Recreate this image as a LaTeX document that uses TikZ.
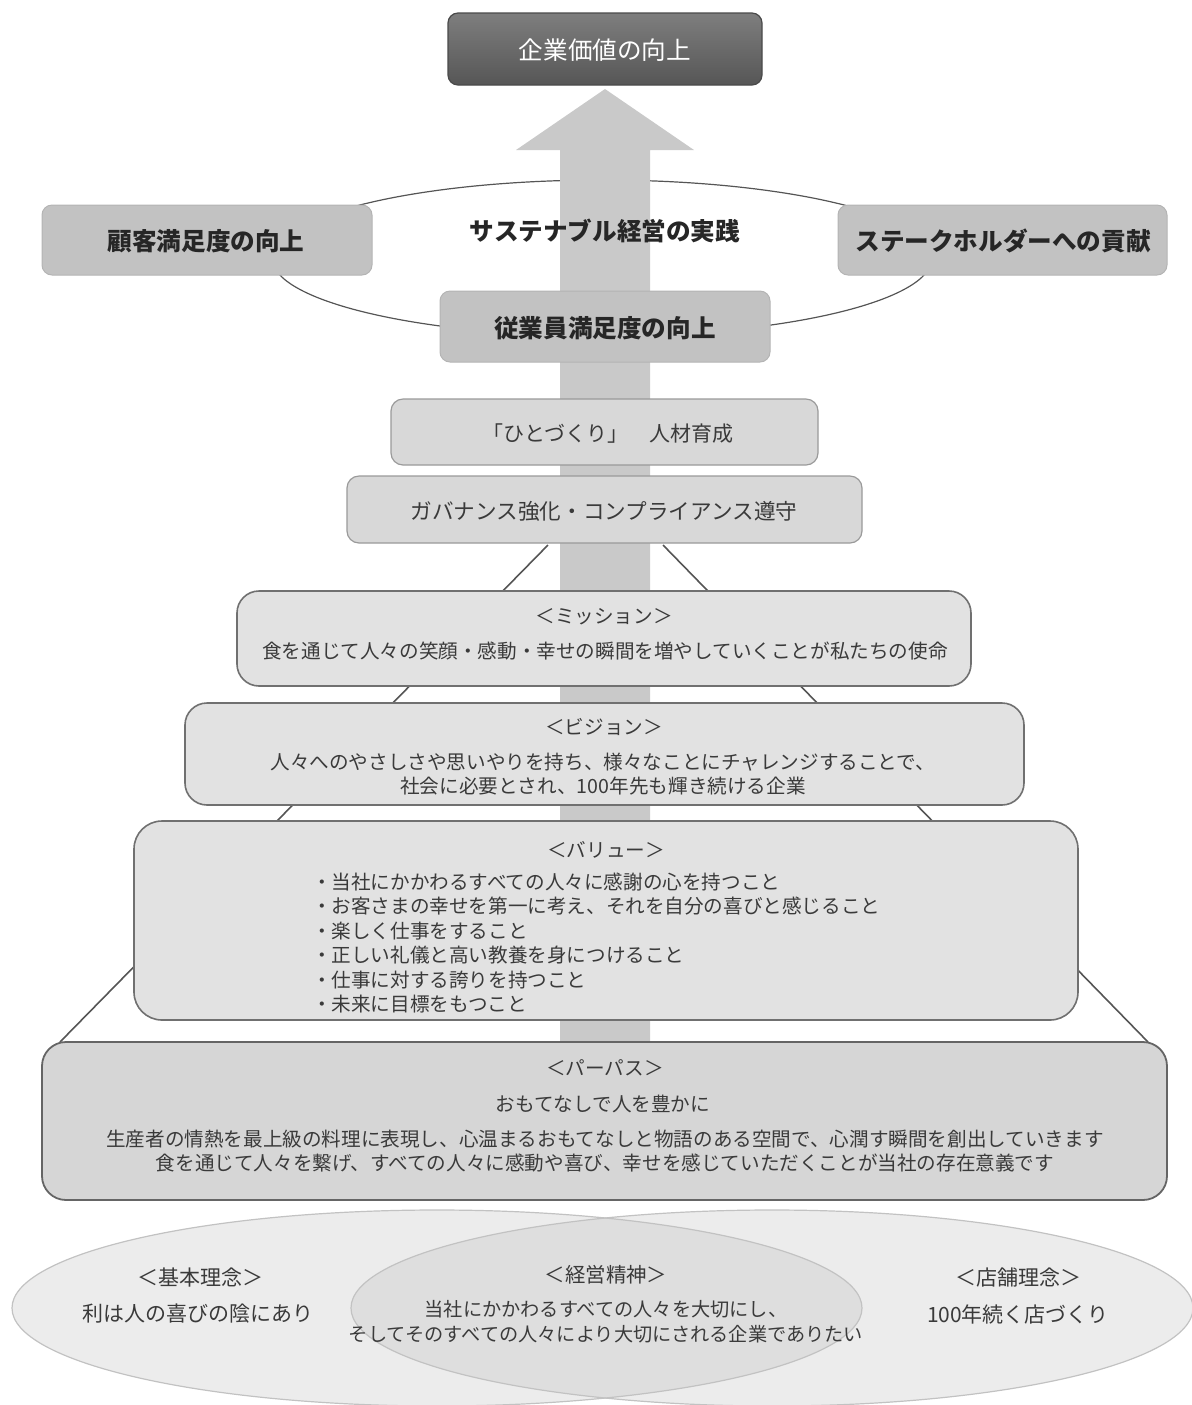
\documentclass[tikz,border=0pt]{standalone}
\usepackage{fontspec}
\setmainfont{Noto Sans CJK JP}
\definecolor{topA}{HTML}{7E7E7E}
\definecolor{topB}{HTML}{565656}
\definecolor{topedge}{HTML}{4A4A4A}
\definecolor{arrowfill}{HTML}{C9C9C9}
\definecolor{keyfill}{HTML}{C2C2C2}
\definecolor{keyedge}{HTML}{B4B4B4}
\definecolor{midfill}{HTML}{D8D8D8}
\definecolor{midedge}{HTML}{9A9A9A}
\definecolor{lightfill}{HTML}{E2E2E2}
\definecolor{lightedge}{HTML}{707070}
\definecolor{purfill}{HTML}{D6D6D6}
\definecolor{puredge}{HTML}{656565}
\definecolor{ellfill}{HTML}{ECECEC}
\definecolor{lensfill}{HTML}{DEDEDE}
\definecolor{elledge}{HTML}{C2C2C2}
\definecolor{txt}{HTML}{3A3A3A}
\definecolor{boldtxt}{HTML}{262626}
\definecolor{linegray}{HTML}{555555}
\begin{document}
\begin{tikzpicture}[x=0.5pt,y=-0.5pt,
  every node/.style={inner sep=0pt,outer sep=0pt},
  darkbox/.style={rounded corners=5pt,draw=topedge,top color=topA,bottom color=topB,line width=0.6pt},
  keybox/.style={rounded corners=5pt,fill=keyfill,draw=keyedge,line width=0.5pt},
  midbox/.style={rounded corners=6pt,fill=midfill,draw=midedge,line width=0.6pt},
  lightbox/.style={rounded corners=11pt,fill=lightfill,draw=lightedge,line width=0.8pt},
  purposebox/.style={rounded corners=12pt,fill=purfill,draw=puredge,line width=0.9pt},
  keytext/.style={text=boldtxt,font=\fontsize{12.3pt}{14pt}\selectfont\bfseries},
  midtext/.style={text=txt,font=\fontsize{10.5pt}{12pt}\selectfont},
  bodytext/.style={text=txt,font=\fontsize{9.8pt}{12.2pt}\selectfont,align=center},
  pyramid/.style={draw=linegray,line width=0.8pt},
]
\useasboundingbox (0,0) rectangle (1192,1405);

% ---- bottom overlapping ellipses ----
\fill[ellfill] (437,1308) ellipse [x radius=212.5pt,y radius=49pt];
\fill[ellfill] (772,1308) ellipse [x radius=210.5pt,y radius=49pt];
\begin{scope}
  \clip (437,1308) ellipse [x radius=212.5pt,y radius=49pt];
  \fill[lensfill] (772,1308) ellipse [x radius=210.5pt,y radius=49pt];
\end{scope}
\draw[elledge,line width=0.6pt] (437,1308) ellipse [x radius=212.5pt,y radius=49pt];
\draw[elledge,line width=0.6pt] (772,1308) ellipse [x radius=210.5pt,y radius=49pt];

% ---- sustainability ellipse ----
\draw[linegray,line width=0.6pt] (602,258) ellipse [x radius=165pt,y radius=39pt];

% ---- pyramid outline ----
\coordinate (pl0) at (548,545);
\coordinate (pl1) at (60,1042);
\coordinate (pr0) at (663,545);
\coordinate (pr1) at (1148,1042);
\draw[pyramid] (pl0) -- (pl1);
\draw[pyramid] (pr0) -- (pr1);

% ---- big arrow ----
\fill[arrowfill] (560,1042) -- (560,150) -- (516,150) -- (605,89) -- (694,150) -- (650,150) -- (650,1042) -- cycle;

% ---- top box ----
\node[darkbox,minimum width=157pt,minimum height=36pt] (top) at (605,49) {};
\node[text=white,font=\fontsize{12.3pt}{14pt}\selectfont] (toptext) at (605,50) {企業価値の向上};

% ---- sustainability group ----
\node[keytext] (sust) at (605,231) {サステナブル経営の実践};
\node[keybox,minimum width=165pt,minimum height=35pt] (cust) at (207,240) {};
\node[keytext] (custtext) at (206,241) {顧客満足度の向上};
\node[keybox,minimum width=164.5pt,minimum height=35pt] (stake) at (1002.5,240) {};
\node[keytext] (staketext) at (1003,241) {ステークホルダーへの貢献};
\node[keybox,minimum width=165pt,minimum height=35.5pt] (emp) at (605,326.5) {};
\node[keytext] (emptext) at (605,328) {従業員満足度の向上};

% ---- middle boxes ----
\node[midbox,minimum width=213.5pt,minimum height=33pt] (hito) at (604.5,432) {};
\node[midtext] (hitotext) at (608,434) {「ひとづくり」　人材育成};
\node[midbox,minimum width=257.5pt,minimum height=33.5pt] (gov) at (604.5,509.5) {};
\node[midtext,font=\fontsize{10.8pt}{12pt}\selectfont] (govtext) at (604,511) {ガバナンス強化・コンプライアンス遵守};

% ---- mission ----
\node[lightbox,minimum width=367pt,minimum height=47.5pt] (mission) at (604,638.5) {};
\node[bodytext] (missiont) at (604,617) {＜ミッション＞};
\node[bodytext] (missionb) at (605,651) {食を通じて人々の笑顔・感動・幸せの瞬間を増やしていくことが私たちの使命};

% ---- vision ----
\node[lightbox,minimum width=419.5pt,minimum height=51pt] (vision) at (604.5,754) {};
\node[bodytext] (visiont) at (604,727) {＜ビジョン＞};
\node[bodytext] (visionb) at (603,774) {人々へのやさしさや思いやりを持ち、様々なことにチャレンジすることで、\\社会に必要とされ、100年先も輝き続ける企業};

% ---- value ----
\node[lightbox,rounded corners=14pt,minimum width=472pt,minimum height=99.5pt] (value) at (606,920.5) {};
\node[bodytext] (valuet) at (606,850) {＜バリュー＞};
\node[bodytext,align=left,anchor=west] (valueb) at (312,943) {・当社にかかわるすべての人々に感謝の心を持つこと\\・お客さまの幸せを第一に考え、それを自分の喜びと感じること\\・楽しく仕事をすること\\・正しい礼儀と高い教養を身につけること\\・仕事に対する誇りを持つこと\\・未来に目標をもつこと};

% ---- purpose ----
\node[purposebox,minimum width=562.5pt,minimum height=79pt] (purpose) at (604.5,1121) {};
\node[bodytext] (purposet) at (605,1068) {＜パーパス＞};
\node[bodytext] (purposem) at (603,1104) {おもてなしで人を豊かに};
\node[bodytext] (purposeb) at (605,1151) {生産者の情熱を最上級の料理に表現し、心温まるおもてなしと物語のある空間で、心潤す瞬間を創出していきます\\食を通じて人々を繋げ、すべての人々に感動や喜び、幸せを感じていただくことが当社の存在意義です};

% ---- bottom texts ----
\node[bodytext,font=\fontsize{10.5pt}{12.5pt}\selectfont] (kihont) at (200,1278) {＜基本理念＞};
\node[bodytext,font=\fontsize{10.5pt}{12.5pt}\selectfont] (kihonb) at (198,1314) {利は人の喜びの陰にあり};
\node[bodytext,font=\fontsize{10.2pt}{12.5pt}\selectfont] (keieit) at (606,1275) {＜経営精神＞};
\node[bodytext,font=\fontsize{9.6pt}{12.5pt}\selectfont] (keieib) at (606,1322) {当社にかかわるすべての人々を大切にし、\\そしてそのすべての人々により大切にされる企業でありたい};
\node[bodytext,font=\fontsize{10.5pt}{12.5pt}\selectfont] (tenpot) at (1018,1278) {＜店舗理念＞};
\node[bodytext,font=\fontsize{10.5pt}{12.5pt}\selectfont] (tenpob) at (1018,1314) {100年続く店づくり};
\end{tikzpicture}
\end{document}
